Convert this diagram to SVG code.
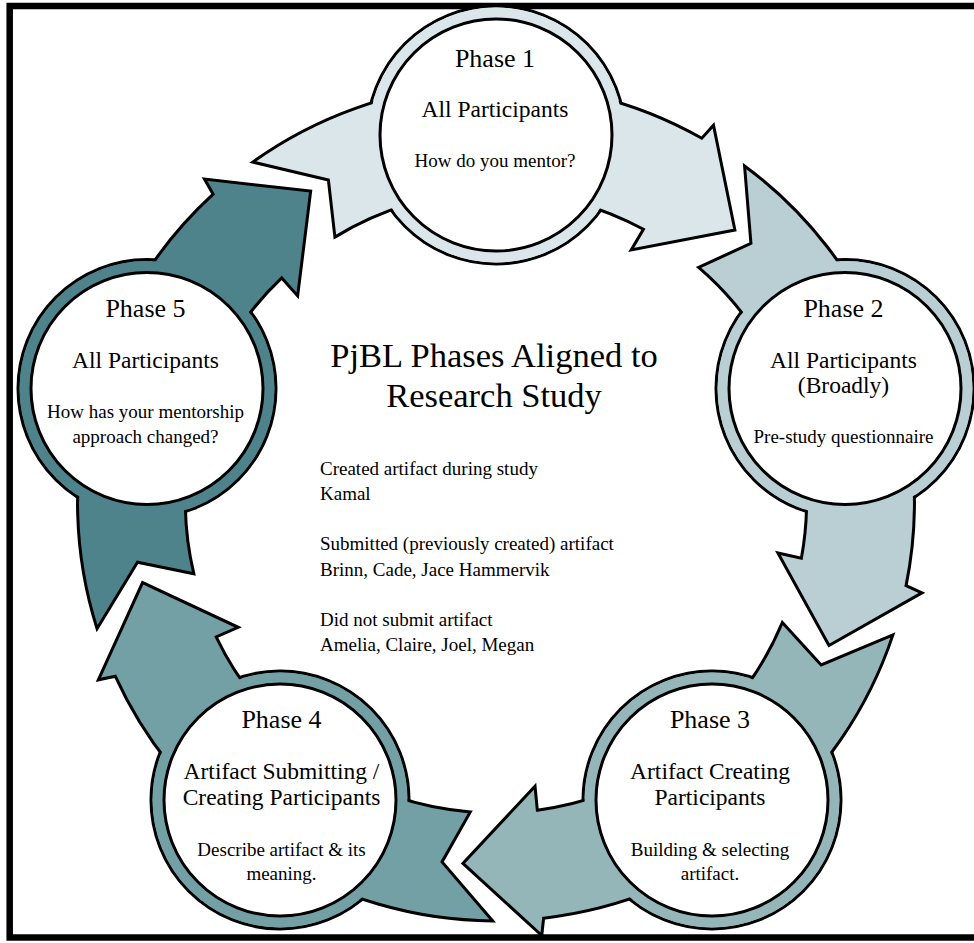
<svg xmlns="http://www.w3.org/2000/svg" xmlns:xlink="http://www.w3.org/1999/xlink" width="974" height="943" viewBox="0 0 974 943">
  <style>
    text { font-family: "Liberation Serif", "Times New Roman", serif; fill: #000; text-anchor: middle; }
    .h { font-size: 26px; }
    .s { font-size: 23.5px; }
    .b { font-size: 19px; }
    .title { font-size: 34.5px; }
    .list { font-size: 19px; text-anchor: start; }
    .edge { stroke: #000; stroke-width: 3; stroke-linejoin: miter; }
    .rim { stroke: #000; stroke-width: 3; }
    .core { fill: #fff; stroke: #000; stroke-width: 3; }
  </style>
  <defs>
    <!-- curved arrow band around the cycle centre (496,502.5); copies are rotated by 72deg -->
    <path id="band" d="M252.7,162.1 A418,418 0 0 1 701.8,138.2 L713.5,125.3 L734.9,230.0 L631.2,250.0 L643.4,229.3 A310,310 0 0 0 334.9,237.1 L328.4,180.0 Z"/>
  </defs>

  <rect x="0" y="0" width="974" height="943" fill="#fff"/>
  <!-- frame -->
  <rect x="9.7" y="6" width="975" height="931.5" fill="none" stroke="#000" stroke-width="6.5"/>

  <!-- rim outlines of the phase circles -->
  <g id="node-rims">
    <circle class="rim" cx="496" cy="135" r="129" fill="#DAE6E9"/>
    <circle class="rim" cx="845" cy="388.5" r="129" fill="#B9CFD4"/>
    <circle class="rim" cx="712" cy="800" r="129" fill="#94B6B9"/>
    <circle class="rim" cx="280" cy="800" r="129" fill="#73A0A5"/>
    <circle class="rim" cx="147" cy="388.5" r="129" fill="#4F838B"/>
  </g>

  <!-- arrows from each phase to the next -->
  <g id="connectors">
    <use xlink:href="#band" href="#band" class="edge" fill="#DAE6E9"/>
    <use xlink:href="#band" href="#band" class="edge" fill="#B9CFD4" transform="rotate(72 496 502.5)"/>
    <use xlink:href="#band" href="#band" class="edge" fill="#94B6B9" transform="rotate(144 496 502.5)"/>
    <use xlink:href="#band" href="#band" class="edge" fill="#73A0A5" transform="rotate(216 496 502.5)"/>
    <use xlink:href="#band" href="#band" class="edge" fill="#4F838B" transform="rotate(288 496 502.5)"/>
  </g>

  <g id="phase1">
    <circle cx="496" cy="135" r="127.4" fill="#DAE6E9"/>
    <circle class="core" cx="496" cy="135" r="116"/>
    <text class="h" x="495" y="67">Phase 1</text>
    <text class="s" x="495" y="117">All Participants</text>
    <text class="b" x="495" y="167">How do you mentor?</text>
  </g>

  <g id="phase2">
    <circle cx="845" cy="388.5" r="127.4" fill="#B9CFD4"/>
    <circle class="core" cx="845" cy="388.5" r="116"/>
    <text class="h" x="843.5" y="317">Phase 2</text>
    <text class="s" x="843.5" y="368">All Participants</text>
    <text class="s" x="843.5" y="393">(Broadly)</text>
    <text class="b" x="843.5" y="443">Pre-study questionnaire</text>
  </g>

  <g id="phase3">
    <circle cx="712" cy="800" r="127.4" fill="#94B6B9"/>
    <circle class="core" cx="712" cy="800" r="116"/>
    <text class="h" x="710" y="728">Phase 3</text>
    <text class="s" x="710" y="779">Artifact Creating</text>
    <text class="s" x="710" y="805">Participants</text>
    <text class="b" x="710" y="856">Building &amp; selecting</text>
    <text class="b" x="710" y="880">artifact.</text>
  </g>

  <g id="phase4">
    <circle cx="280" cy="800" r="127.4" fill="#73A0A5"/>
    <circle class="core" cx="280" cy="800" r="116"/>
    <text class="h" x="281.5" y="728">Phase 4</text>
    <text class="s" x="281.5" y="779">Artifact Submitting /</text>
    <text class="s" x="281.5" y="805">Creating Participants</text>
    <text class="b" x="281.5" y="856">Describe artifact &amp; its</text>
    <text class="b" x="281.5" y="880">meaning.</text>
  </g>

  <g id="phase5">
    <circle cx="147" cy="388.5" r="127.4" fill="#4F838B"/>
    <circle class="core" cx="147" cy="388.5" r="116"/>
    <text class="h" x="145.5" y="317">Phase 5</text>
    <text class="s" x="145.5" y="368">All Participants</text>
    <text class="b" x="145.5" y="418">How has your mentorship</text>
    <text class="b" x="145.5" y="443">approach changed?</text>
  </g>

  <!-- centre title and participant lists -->
  <g id="summary">
    <text class="title" x="494" y="367">PjBL Phases Aligned to</text>
    <text class="title" x="494" y="407">Research Study</text>
    <text class="list" x="320" y="474.5">Created artifact during study</text>
    <text class="list" x="320" y="500">Kamal</text>
    <text class="list" x="320" y="550">Submitted (previously created) artifact</text>
    <text class="list" x="320" y="575.5">Brinn, Cade, Jace Hammervik</text>
    <text class="list" x="320" y="625.5">Did not submit artifact</text>
    <text class="list" x="320" y="651">Amelia, Claire, Joel, Megan</text>
  </g>
</svg>
